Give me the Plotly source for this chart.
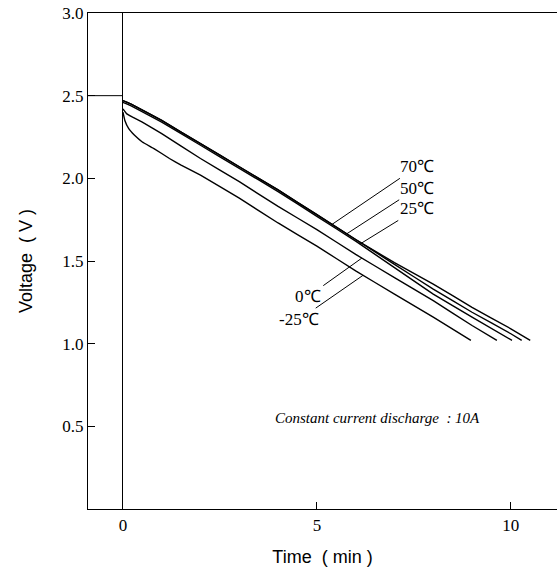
import numpy as np
import plotly.graph_objects as go

# Discharge curves, constant current 10 A: time (min) vs cell voltage (V)
t_70 = [0, 0.2, 1, 2, 3, 4, 5, 6, 7, 8, 9, 10, 10.5]
v_70 = [2.47, 2.45, 2.35, 2.21, 2.07, 1.93, 1.78, 1.63, 1.49, 1.36, 1.22, 1.09, 1.02]

t_50 = [0, 0.2, 1, 2, 3, 4, 5, 6, 7, 8, 9, 10, 10.28]
v_50 = [2.47, 2.45, 2.35, 2.21, 2.07, 1.93, 1.78, 1.63, 1.48, 1.33, 1.19, 1.06, 1.02]

t_25 = [0, 0.2, 1, 2, 3, 4, 5, 6, 7, 8, 9, 10.03]
v_25 = [2.46, 2.44, 2.34, 2.20, 2.06, 1.92, 1.77, 1.62, 1.46, 1.30, 1.16, 1.02]

t_0 = [0, 0.1, 0.25, 0.5, 1, 2, 3, 4, 5, 6, 7, 8, 9, 9.64]
v_0 = [2.42, 2.39, 2.37, 2.34, 2.27, 2.12, 1.98, 1.83, 1.69, 1.54, 1.40, 1.26, 1.11, 1.02]

t_m25 = [0, 0.05, 0.15, 0.3, 0.5, 0.8, 1.2, 1.5, 2, 3, 4, 5, 6, 7, 8, 8.97]
v_m25 = [2.40, 2.35, 2.30, 2.26, 2.22, 2.18, 2.12, 2.08, 2.02, 1.88, 1.73, 1.59, 1.44, 1.30, 1.16, 1.02]

series = [
    ("70℃", t_70, v_70),
    ("50℃", t_50, v_50),
    ("25℃", t_25, v_25),
    ("0℃", t_0, v_0),
    ("-25℃", t_m25, v_m25),
]

x_ticks = [0, 5, 10]
y_ticks = [0.5, 1.0, 1.5, 2.0, 2.5, 3.0]
y_ticktext = ["0.5", "1.0", "1.5", "2.0", "2.5", "3.0"]

X_RANGE = [-0.9, 11.19]
Y_RANGE = [0, 3.0]

# label placement: (text x, text y, time on curve where leader ends)
label_pos = {
    "70℃": (7.58, 2.07, 5.39),
    "50℃": (7.58, 1.94, 5.77),
    "25℃": (7.58, 1.815, 6.11),
    "0℃": (4.77, 1.285, 6.16),
    "-25℃": (4.54, 1.145, 6.19),
}

SERIF = "Liberation Serif"
SANS = "Liberation Sans"

fig = go.Figure()
for name, t, v in series:
    fig.add_trace(go.Scatter(
        x=t, y=v, mode="lines", name=name,
        line=dict(color="black", width=1.4, shape="spline", smoothing=0.2),
        hoverinfo="skip",
    ))

annotations = []
for name, t, v in series:
    tx, ty, tc = label_pos[name]
    annotations.append(dict(
        x=tc, y=float(np.interp(tc, t, v)), xref="x", yref="y",
        ax=tx, ay=ty, axref="x", ayref="y",
        text=name, showarrow=True, arrowhead=0, arrowwidth=1, arrowcolor="black",
        standoff=0, startstandoff=1,
        font=dict(family=SERIF, size=17, color="black"),
    ))

annotations.append(dict(
    x=6.55, y=0.55, xref="x", yref="y", showarrow=False,
    text="<i>Constant current discharge  : 10A</i>",
    font=dict(family=SERIF, size=15, color="black"),
))

fig.update_layout(
    width=557, height=571,
    margin=dict(l=88, r=0, t=13, b=62),
    paper_bgcolor="white", plot_bgcolor="white",
    showlegend=False,
    annotations=annotations,
    shapes=[dict(type="line", xref="x", yref="y", x0=X_RANGE[0], x1=0, y0=2.5, y1=2.5,
                 line=dict(color="black", width=1))],
    xaxis=dict(
        range=X_RANGE, tickvals=x_ticks, ticks="inside", ticklen=7, tickwidth=1,
        tickcolor="black", showline=True, linecolor="black", linewidth=1.3,
        mirror=True, showgrid=False, zeroline=True, zerolinecolor="black",
        zerolinewidth=1.3,
        tickfont=dict(family=SERIF, size=17, color="black"),
        title=dict(text="Time  ( min )", font=dict(family=SANS, size=18, color="black"),
                   standoff=16),
    ),
    yaxis=dict(
        range=Y_RANGE, tickvals=y_ticks, ticktext=y_ticktext, ticks="inside",
        ticklen=7, tickwidth=1, tickcolor="black", showline=True, linecolor="black",
        linewidth=1.3, showgrid=False, zeroline=False,
        tickfont=dict(family=SERIF, size=17, color="black"),
        title=dict(text="Voltage  ( V )", font=dict(family=SANS, size=18, color="black"),
                   standoff=24),
    ),
)

fig.write_html("out.html")
